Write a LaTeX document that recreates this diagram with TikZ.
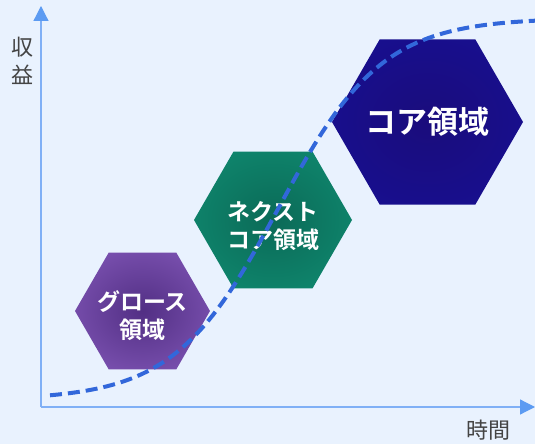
\documentclass[tikz,border=0pt]{standalone}
\usepackage{fontspec}
\newfontfamily\jpfont{Noto Sans CJK JP}[BoldFont={Noto Sans CJK JP Bold}]
\usetikzlibrary{shapes.geometric,arrows.meta}

\definecolor{bgblue}{HTML}{E9F2FE}
\definecolor{axisblue}{HTML}{80B0F6}
\definecolor{tipblue}{HTML}{5C9BF2}
\definecolor{curveblue}{HTML}{3267DA}
\definecolor{labelgray}{HTML}{444444}
\definecolor{growthin}{HTML}{522F84}
\definecolor{growthout}{HTML}{9668CE}
\definecolor{nextin}{HTML}{0B6A57}
\definecolor{nextout}{HTML}{11997C}
\definecolor{corein}{HTML}{1A0C7C}
\definecolor{coreout}{HTML}{16119C}

\colorlet{hexin}{black}
\colorlet{hexout}{white}
\pgfdeclareradialshading[hexin,hexout]{hexglow}{\pgfpoint{0bp}{0bp}}{color(0bp)=(hexin); color(50bp)=(hexout)}

\tikzset{
    axis/.style={draw=axisblue, line width=1.2pt, -{Triangle[length=15pt, width=15pt, color=tipblue]}},
    axislabel/.style={text=labelgray, align=center, font=\jpfont\fontsize{22}{28}\selectfont},
    hexzone/.style={regular polygon, regular polygon sides=6, inner sep=0pt, minimum size=#1},
    glow/.code 2 args={\colorlet{hexin}{#1}\colorlet{hexout}{#2}\tikzset{shade, shading=hexglow}},
    smalltext/.style={text=white, align=center, font=\jpfont\bfseries\fontsize{23}{28}\selectfont},
    bigtext/.style={text=white, font=\jpfont\bfseries\fontsize{31}{36}\selectfont},
    scurve/.style={draw=curveblue, line width=4pt, dash pattern=on 12pt off 6pt},
}

\begin{document}
\begin{tikzpicture}[x=1pt, y=1pt]
    \useasboundingbox (0,0) rectangle (535,444);
    \fill[bgblue] (0,0) rectangle (535,444);

    % axes
    \coordinate (origin) at (41,37);
    \coordinate (ytop) at (41,438);
    \coordinate (xend) at (535,37);
    \draw[axis] (origin) -- (ytop);
    \draw[axis] (origin) -- (xend);
    \node[axislabel] (yname) at (22,383) {収\\益};
    \node[axislabel] (xname) at (488,14) {時間};

    % zones
    \node[hexzone=135pt, glow={growthin}{growthout}] (growth) at (142.5,133) {};
    \node[hexzone=158pt, glow={nextin}{nextout}] (nextcore) at (273,224) {};
    \node[hexzone=191pt, glow={corein}{coreout}] (core) at (427.5,322) {};
    \node[smalltext, yshift=-5pt] (growthname) at (growth) {グロース\\領域};
    \node[smalltext, yshift=-6pt] (nextcorename) at (nextcore) {ネクスト\\コア領域};
    \node[bigtext] (corename) at (core) {コア領域};

    % s-curve
    \draw[scurve] plot[domain=50:535, samples=120] (\x, {44 + 382/(1 + exp(-(\x - 278)/52))});
\end{tikzpicture}
\end{document}
